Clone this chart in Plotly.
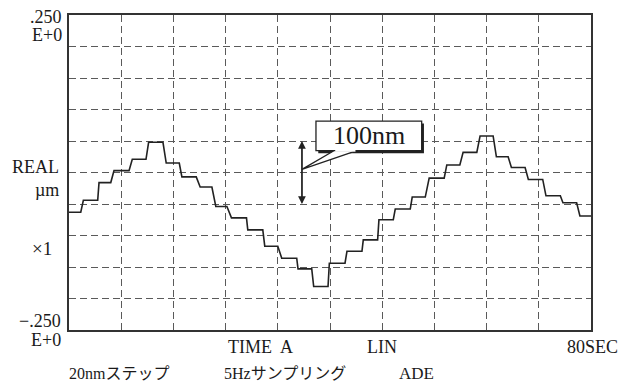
import plotly.graph_objects as go

# ---- data: staircase plateaus (time in s, displacement in µm)
t_start = [0.0, 2.2, 4.6, 6.9, 9.7, 12.2, 14.9, 17.3, 20.1, 22.5, 24.9, 27.4, 30.0, 32.6, 35.1, 37.5,
           39.9, 42.6, 45.1, 47.5, 50.0, 52.6, 55.2, 57.9, 60.4, 63.0, 65.5, 67.8, 70.4, 73.1, 75.7, 78.3]
t_end = [1.8, 4.4, 6.4, 9.2, 11.8, 14.4, 16.9, 19.5, 21.9, 24.2, 27.2, 29.7, 32.0, 34.9, 37.2, 39.7,
         42.3, 44.9, 47.3, 49.7, 52.3, 54.6, 57.5, 59.9, 62.5, 65.0, 67.3, 69.9, 72.6, 75.3, 77.8, 80.0]
level = [-0.063, -0.044, -0.016, 0.003, 0.021, 0.048, 0.015, -0.007, -0.023, -0.054, -0.072, -0.091,
         -0.117, -0.136, -0.153, -0.181, -0.144, -0.125, -0.107, -0.075, -0.058, -0.039, -0.009, 0.012,
         0.032, 0.058, 0.025, 0.008, -0.011, -0.037, -0.048, -0.069]

x_range = [0, 80]
y_range = [-0.25, 0.25]

# callout ("100nm") geometry in data units
arrow_t = 35.7
arrow_top, arrow_bot = 0.05, -0.05
box_t = [37.85, 54.05]
box_v = [0.0346, 0.0817]
ptr_base = [40.6, 44.1]
ptr_tip_v = 0.005

ts, vs = [], []
for a, b, v in zip(t_start, t_end, level):
    ts += [a, b]
    vs += [v, v]

L, R, T, B = 69, 28, 15, 55
W, H = 619, 385
PW, PH = W - L - R, H - T - B


def px(xp):
    return (xp - L) / PW


def py(yp):
    return (H - B - yp) / PH


SERIF = "Liberation Serif, Times New Roman, Noto Sans CJK JP, serif"
INK = "#1a1a1a"

fig = go.Figure()
fig.add_trace(go.Scatter(x=ts, y=vs, mode="lines",
                         line=dict(color="#222222", width=1.6), hoverinfo="skip",
                         showlegend=False))

fig.update_layout(
    width=W, height=H,
    margin=dict(l=L, r=R, t=T, b=B),
    paper_bgcolor="white", plot_bgcolor="white",
    showlegend=False,
    xaxis=dict(range=x_range, tick0=0, dtick=8, showticklabels=False, ticks="",
               showgrid=True, gridcolor="#5a5a5a", gridwidth=1.3, griddash="7px,4px",
               zeroline=False, showline=True, linecolor="#333333", linewidth=1.5, mirror=True),
    yaxis=dict(range=y_range, tick0=-0.25, dtick=0.05, showticklabels=False, ticks="",
               showgrid=True, gridcolor="#5a5a5a", gridwidth=1.3, griddash="7px,4px",
               zeroline=False, showline=True, linecolor="#333333", linewidth=1.5, mirror=True),
)

# callout box with shadow
dx, dy = 0.35, 0.004
fig.add_shape(type="rect", xref="x", yref="y", x0=box_t[0] + dx, x1=box_t[1] + dx,
              y0=box_v[0] - dy, y1=box_v[1] - dy, fillcolor="#222222", line=dict(width=0))
fig.add_shape(type="rect", xref="x", yref="y", x0=box_t[0], x1=box_t[1],
              y0=box_v[0], y1=box_v[1], fillcolor="white", line=dict(color="#222222", width=1.3))
fig.add_shape(type="path", xref="x", yref="y",
              path=f"M {ptr_base[0]},{box_v[0]} L {arrow_t},{ptr_tip_v} L {ptr_base[1]},{box_v[0]} Z",
              fillcolor="white", line=dict(color="#222222", width=1.3))
# hide the box edge segment under the pointer
fig.add_shape(type="line", xref="x", yref="y", x0=ptr_base[0] + 0.2, x1=ptr_base[1] - 0.2,
              y0=box_v[0], y1=box_v[0], line=dict(color="white", width=2))
fig.add_annotation(x=(box_t[0] + box_t[1]) / 2, y=(box_v[0] + box_v[1]) / 2, xref="x", yref="y",
                   text="100nm", showarrow=False, font=dict(family=SERIF, size=26, color=INK))

# double-headed vertical arrow
for y_tip, y_tail in [(arrow_top, arrow_bot), (arrow_bot, arrow_top)]:
    fig.add_annotation(x=arrow_t, y=y_tip, ax=arrow_t, ay=y_tail, xref="x", yref="y",
                       axref="x", ayref="y", showarrow=True, arrowhead=2, arrowsize=1.2,
                       arrowwidth=1.3, arrowcolor="#222222", text="")

labels = [
    (".250", 64, 17, "right", 18),
    ("E+0", 64, 35, "right", 18),
    ("REAL", 61, 167, "right", 18),
    ("µm", 61, 190, "right", 18),
    ("×1", 54, 248, "right", 19),
    ("−.250", 63, 321, "right", 18),
    ("E+0", 63, 340, "right", 18),
    ("TIME  A", 226, 347, "left", 18),
    ("LIN", 365, 347, "left", 18),
    ("80SEC", 565, 347, "left", 18),
    ("20nmステップ", 67, 373, "left", 16),
    ("5Hzサンプリング", 222, 373, "left", 16),
    ("ADE", 397, 373, "left", 17),
]
for text, xp, yp, anchor, fs in labels:
    fig.add_annotation(x=px(xp), y=py(yp), xref="paper", yref="paper", text=text,
                       showarrow=False, xanchor=anchor, yanchor="middle",
                       font=dict(family=SERIF, size=fs, color=INK))

fig.write_html("out.html", config={"displayModeBar": False})

# remove the browser's default page margin so the figure sits at the window origin
with open("out.html", encoding="utf-8") as f:
    html = f.read()
html = html.replace("<head>", "<head><style>html,body{margin:0;padding:0;overflow:hidden;}</style>", 1)
with open("out.html", "w", encoding="utf-8") as f:
    f.write(html)
